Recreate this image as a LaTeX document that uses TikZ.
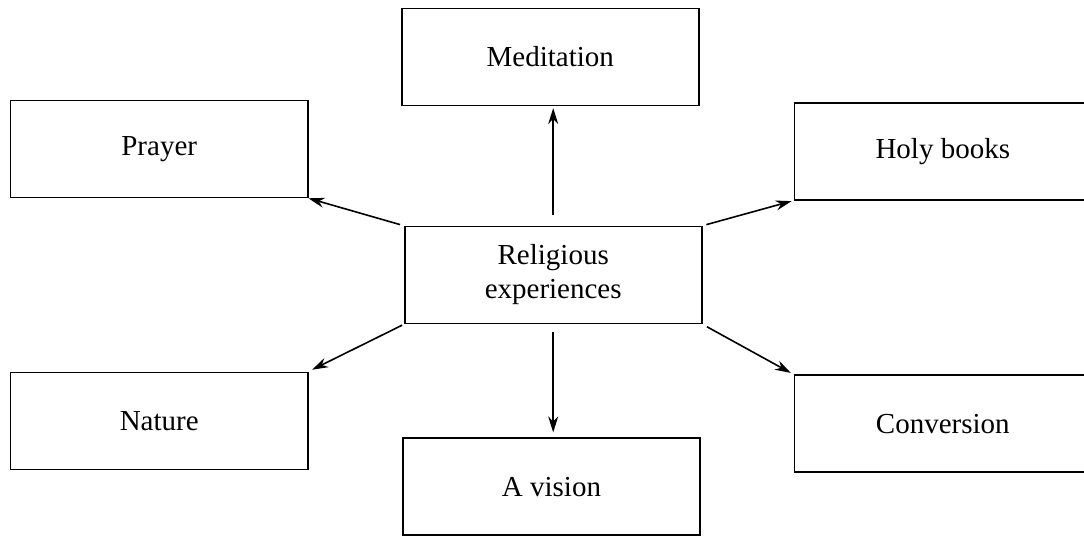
\documentclass[tikz,border=0pt]{standalone}
\usepackage{fontspec}
\setmainfont{Liberation Serif}
\usetikzlibrary{arrows.meta}

\tikzset{
  topic/.style={draw, minimum width=148.5pt, minimum height=48.5pt,
    inner sep=0pt, align=center, font=\fontsize{14.5}{17}\selectfont},
}

\begin{document}
\begin{tikzpicture}[x=0.5pt, y=-0.5pt, line width=0.8pt,
    >={Stealth[length=8pt,width=5pt]}]
    \useasboundingbox (0,0) rectangle (1084,536);
    \node [topic] (rel) at (553.2,275) {Religious\\experiences};
    \node [topic] (med) at (550.3,56.8) {Meditation};
    \node [topic] (pray) at (159.2,149) {Prayer};
    \node [topic] (holy) at (942.8,151.3) {Holy books};
    \node [topic] (nat) at (159.2,420.8) {Nature};
    \node [topic] (conv) at (942.8,423.7) {Conversion};
    \node [topic] (vis) at (551.5,486.7) {A vision};
    \draw [->, shorten <=5.5pt, shorten >=1pt] (rel.north) -- (rel.north |- med.south);
    \draw [->, shorten <=4pt, shorten >=2.5pt] (rel.south) -- (rel.south |- vis.north);
    \draw [->, shorten <=2pt] (rel.north west) -- (pray.south east);
    \draw [->, shorten <=2pt, shorten >=1pt] (rel.north east) -- (holy.south west);
    \draw [->, shorten <=1pt, shorten >=2pt] (rel.south west) -- (nat.north east);
    \draw [->, shorten <=2.5pt, shorten >=1.5pt] (rel.south east) -- (conv.north west);
  \end{tikzpicture}
\end{document}
